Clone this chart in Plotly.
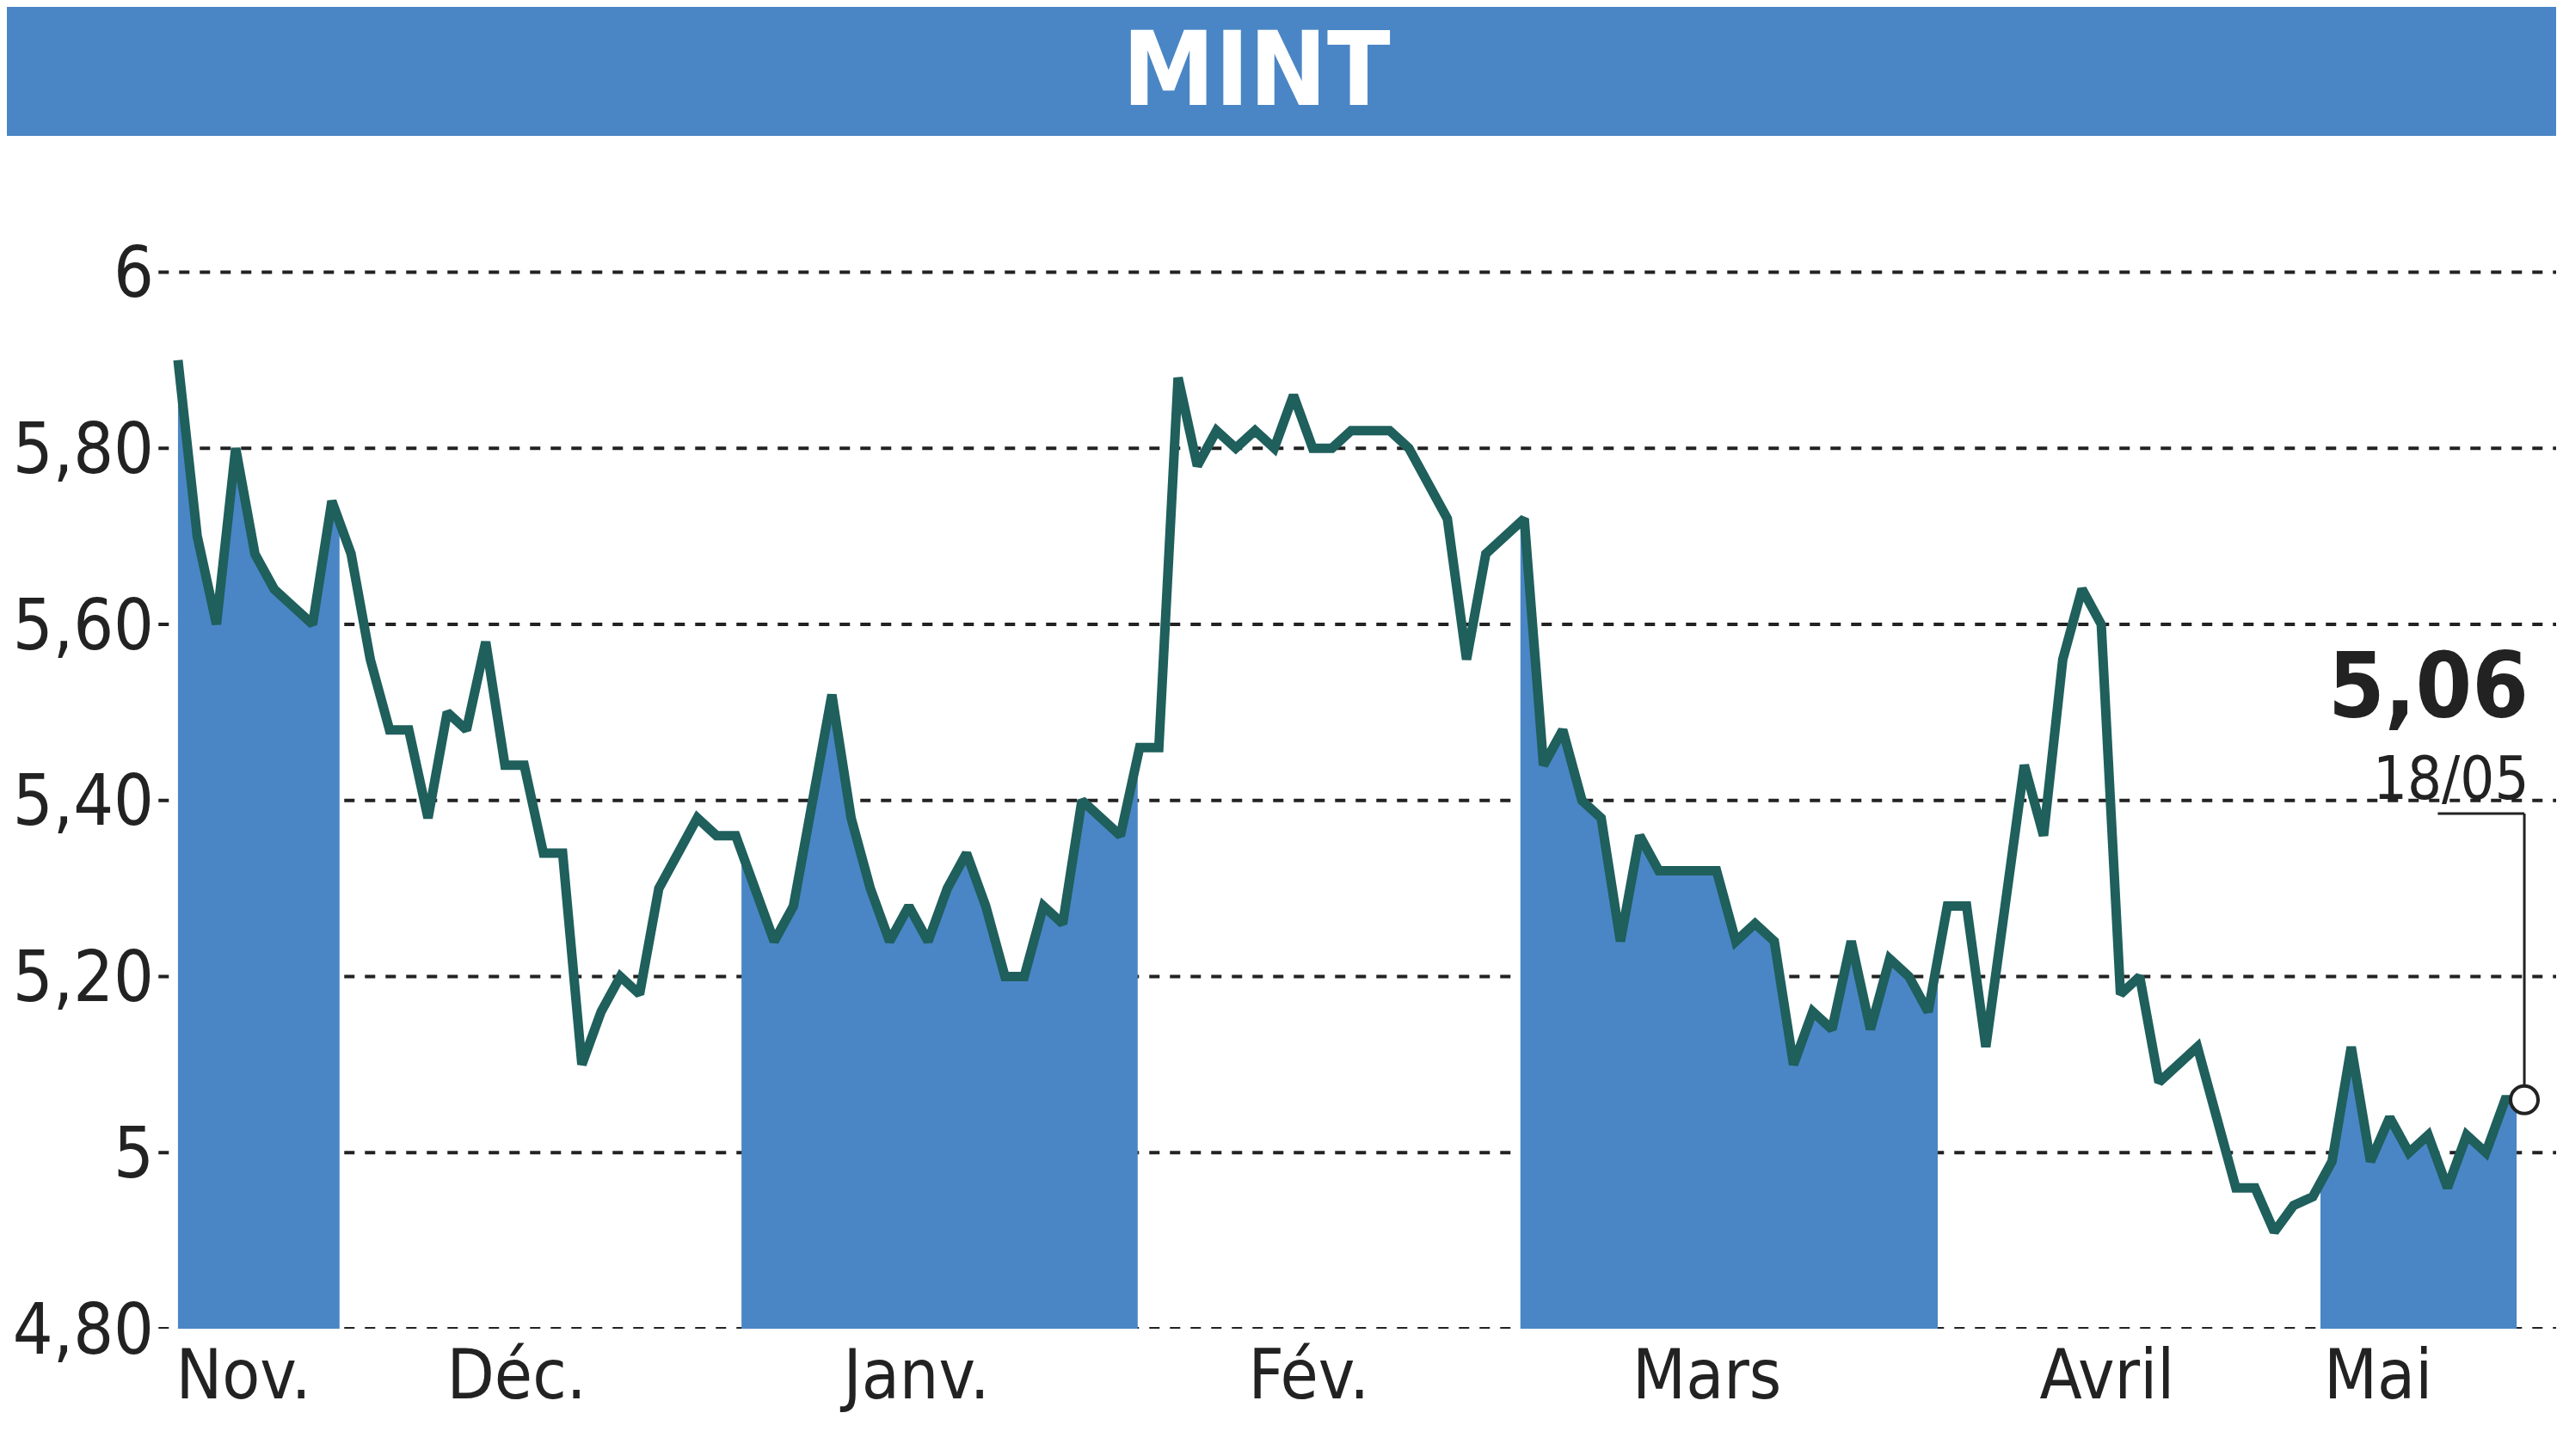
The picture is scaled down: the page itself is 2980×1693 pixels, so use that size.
import plotly.graph_objects as go

prices = [5.90,5.70,5.60,5.80,5.68,5.64,5.62,5.60,5.74,5.68,5.56,5.48,5.48,5.38,5.50,5.48,5.58,5.44,5.44,5.34,
          5.34,5.10,5.16,5.20,5.18,5.30,5.34,5.38,5.36,5.36,5.30,5.24,5.28,5.40,5.52,5.38,5.30,5.24,5.28,5.24,
          5.30,5.34,5.28,5.20,5.20,5.28,5.26,5.40,5.38,5.36,5.46,5.46,5.88,5.78,5.82,5.80,5.82,5.80,5.86,5.80,
          5.80,5.82,5.82,5.82,5.80,5.76,5.72,5.56,5.68,5.70,5.72,5.44,5.48,5.40,5.38,5.24,5.36,5.32,5.32,5.32,
          5.32,5.24,5.26,5.24,5.10,5.16,5.14,5.24,5.14,5.22,5.20,5.16,5.28,5.28,5.12,5.28,5.44,5.36,5.56,5.64,
          5.60,5.18,5.20,5.08,5.10,5.12,5.04,4.96,4.96,4.91,4.94,4.95,4.99,5.12,4.99,5.04,5.00,5.02,4.96,5.02,
          5.00,5.06,5.06]
months = ["Nov.", "Déc.", "Janv.", "Fév.", "Mars", "Avril", "Mai"]
month_pos = [3.4, 17.6, 38.4, 58.8, 79.5, 100.3, 114.4]
bands = [(0, 8.4), (29.3, 49.9), (69.8, 91.5), (111.4, 121.6)]
yticks = [4.8, 5.0, 5.2, 5.4, 5.6, 5.8, 6.0]
ylabels = ["4,80", "5", "5,20", "5,40", "5,60", "5,80", "6"]
last_label, last_date = "5,06", "18/05"

xs = list(range(len(prices)))
def interp(x):
    i = int(x); f = x - i
    if i >= len(prices) - 1: return prices[-1]
    return prices[i] + (prices[i+1] - prices[i]) * f

fig = go.Figure()
blue = "#4a86c5"; teal = "#1f5f5c"
for a, b in bands:
    bx = [a] + [x for x in xs if a < x < b] + [b]
    by = [interp(x) for x in bx]
    fig.add_trace(go.Scatter(x=bx, y=by, fill="tozeroy", fillcolor=blue, mode="none", hoverinfo="skip"))
fig.add_trace(go.Scatter(x=xs, y=prices, mode="lines", line=dict(color=teal, width=11), cliponaxis=False))
fig.add_trace(go.Scatter(x=[xs[-1]], y=[prices[-1]], mode="markers", cliponaxis=False,
                         marker=dict(size=32, color="white", line=dict(color="#222", width=4))))

shapes = [dict(type="line", xref="paper", yref="y", x0=-0.005, x1=1.04, y0=v, y1=v,
               line=dict(color="#222", width=4, dash="dash"), layer="below") for v in yticks]
shapes.append(dict(type="rect", xref="paper", yref="paper", x0=-0.1, x1=1.05, y0=1.042, y1=1.25,
                   fillcolor=blue, line_width=0, layer="below"))
shapes.append(dict(type="line", xref="x", yref="y", x0=xs[-1], x1=xs[-1], y0=prices[-1] + 0.015, y1=5.385,
                   line=dict(color="#222", width=3)))
shapes.append(dict(type="line", xref="x", yref="y", x0=xs[-1] - 4.5, x1=xs[-1], y0=5.385, y1=5.385,
                   line=dict(color="#222", width=3)))
fig.update_layout(
    width=2980, height=1693, showlegend=False, plot_bgcolor="rgba(0,0,0,0)", paper_bgcolor="white",
    margin=dict(l=190, r=44, t=206, b=156), shapes=shapes,
    font=dict(family="DejaVu Sans Condensed, Liberation Sans", color="#222"),
    xaxis=dict(range=[-0.4, len(prices) - 0.6], tickvals=month_pos, ticktext=months, showgrid=False,
               zeroline=False, showline=False, ticks="", tickfont=dict(size=80), automargin=False),
    yaxis=dict(range=[4.8, 6.1], tickvals=yticks, ticktext=ylabels, showgrid=False, zeroline=False,
               ticks="", tickfont=dict(size=82), ticklabelstandoff=18, automargin=False),
    annotations=[
        dict(text="<b>MINT</b>", xref="paper", yref="paper", x=0.46, y=1.1, showarrow=False,
             yanchor="middle", font=dict(size=120, color="white")),
        dict(text="<b>" + last_label + "</b>", xref="x", yref="y", x=xs[-1] + 0.3, y=5.53, xanchor="right",
             showarrow=False, font=dict(size=105)),
        dict(text=last_date, xref="x", yref="y", x=xs[-1] + 0.3, y=5.425, xanchor="right",
             showarrow=False, font=dict(size=70)),
    ],
)
fig.write_html("out.html")
